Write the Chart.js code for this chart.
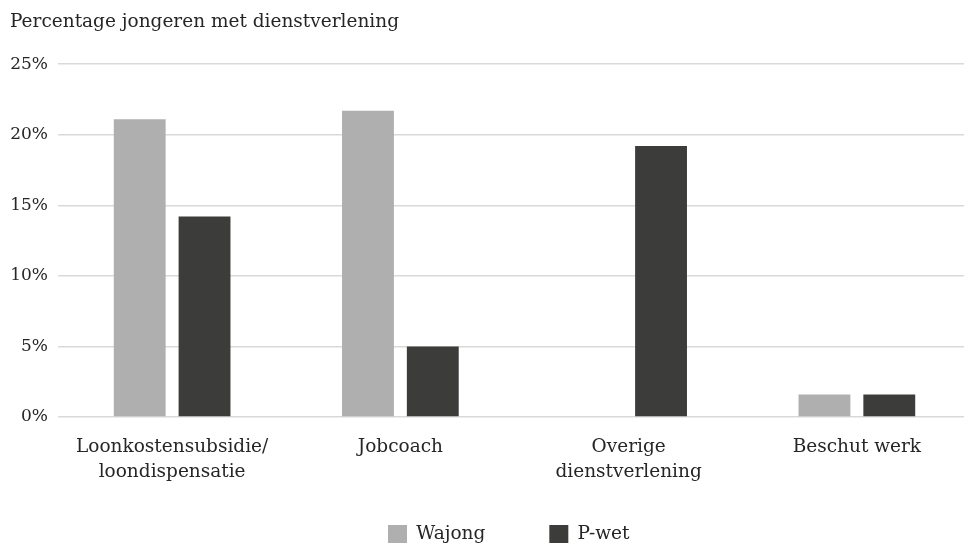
<!DOCTYPE html>
<html>
<head>
<meta charset="utf-8">
<script src="https://cdn.jsdelivr.net/npm/chart.js@4.4.1/dist/chart.umd.min.js"></script>
<style>
  html, body { margin: 0; padding: 0; background: #fff; overflow: hidden; }
  #wrap { width: 980px; height: 548px; }
</style>
</head>
<body>
<div id="wrap"><canvas id="chart" width="980" height="548"></canvas></div>
<script>
// data
var categories = [["Loonkostensubsidie/", "loondispensatie"], "Jobcoach", ["Overige", "dienstverlening"], "Beschut werk"];
var wajong = [21.1, 21.7, 0, 1.6];
var pwet = [14.2, 5.0, 19.2, 1.6];
var yTicks = [0, 5, 10, 15, 20, 25];

var fam = "'DejaVu Serif', serif";
var txt = "#262626";

// legend: wide gap between items, placed low under the axis labels
var legendPlace = {
    id: 'legendPlace',
    afterLayout: function(chart) {
        var lg = chart.legend;
        var p = lg.options.labels.padding;
        var start = (lg.left + p + lg.right - lg.lineWidths[0]) / 2;
        var dx = 388 - start;
        lg.left += dx;
        lg.right += dx;
        lg.top = 534 - p - 18.5 / 2;
    }
};

new Chart(document.getElementById("chart"), {
    type: 'bar',
    data: {
        labels: categories,
        datasets: [
            {
                label: "Wajong",
                data: wajong,
                backgroundColor: "#afafaf",
                barPercentage: 0.8,
                categoryPercentage: 0.568
            },
            {
                label: "P-wet",
                data: pwet,
                backgroundColor: "#3c3c3b",
                barPercentage: 0.8,
                categoryPercentage: 0.568
            }
        ]
    },
    plugins: [legendPlace],
    options: {
        responsive: false,
        devicePixelRatio: 1,
        animation: false,
        layout: { padding: { left: 10, right: 9, top: 0, bottom: 0 } },
        plugins: {
            title: {
                display: true,
                text: "Percentage jongeren met dienstverlening",
                align: 'start',
                color: txt,
                font: { family: fam, size: 18.5, weight: 'normal', lineHeight: 1.2 },
                padding: { top: 11, bottom: 31 }
            },
            legend: {
                position: 'bottom',
                maxHeight: 40,
                labels: {
                    color: txt,
                    font: { family: fam, size: 18.5 },
                    boxWidth: 19,
                    boxHeight: 18,
                    padding: 64
                }
            },
            tooltip: { enabled: false }
        },
        scales: {
            x: {
                afterFit: function(scale) { scale.height = 91; },
                grid: { display: false },
                border: { display: false },
                ticks: {
                    color: txt,
                    font: { family: fam, size: 18.5, lineHeight: 1.35 },
                    maxRotation: 0,
                    autoSkip: false,
                    padding: 10
                }
            },
            y: {
                min: 0,
                max: 25,
                afterFit: function(scale) { scale.width = 48; },
                afterBuildTicks: function(scale) {
                    scale.ticks = yTicks.map(function(v) { return { value: v }; });
                },
                grid: { color: "#d9d9d9", lineWidth: 1.5, drawTicks: false },
                border: { display: false },
                ticks: {
                    color: txt,
                    font: { family: fam, size: 17 },
                    padding: 10,
                    callback: function(v) { return v + "%"; }
                }
            }
        }
    }
});
</script>
</body>
</html>
